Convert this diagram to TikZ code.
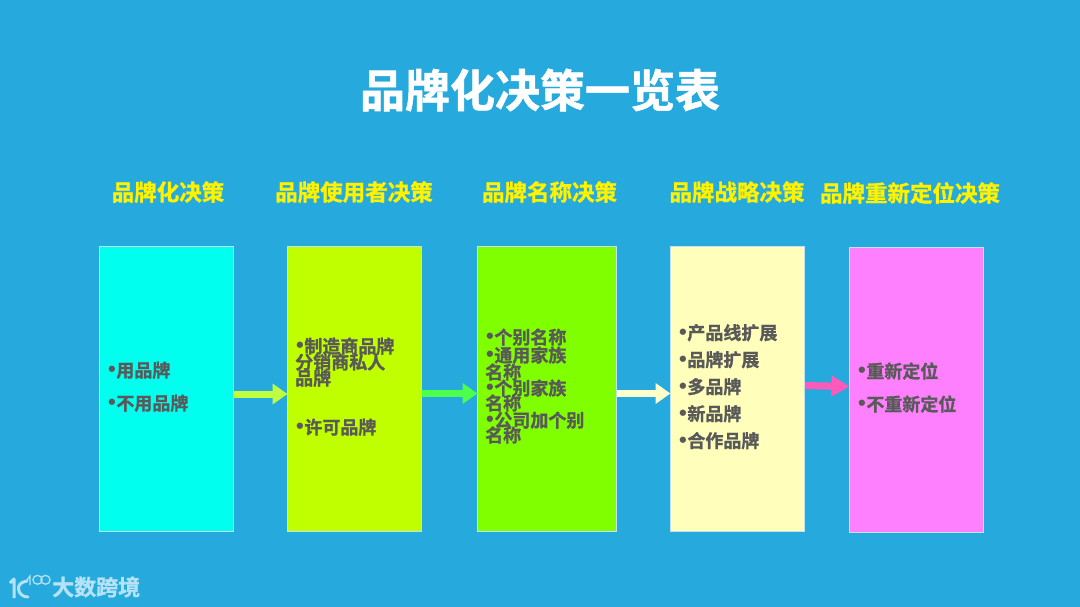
\documentclass[tikz,border=0pt]{standalone}
\usepackage{fontspec}
\setmainfont{Noto Sans CJK SC}[BoldFont={* Bold},BoldFeatures={FakeBold=1.2}]
\usetikzlibrary{arrows.meta}
\definecolor{bgblue}{HTML}{26A9DC}
\definecolor{bodygray}{HTML}{595959}
\definecolor{logoblue}{HTML}{B5E2F5}
\definecolor{edgeblue}{HTML}{BFE3F2}
\newcommand{\bul}{\makebox[8.2pt][l]{\raisebox{0.5pt}{\hspace{-0.2pt}\fontspec{Liberation Sans}\fontsize{22}{22}\selectfont•}}}
\tikzset{
  x=1pt,y=-1pt,
  panel/.style={draw=edgeblue,line width=1pt,inner sep=0pt,anchor=north west},
  head/.style={text=yellow,font=\bfseries\fontsize{22.5}{24}\selectfont,inner sep=0pt,anchor=center},
  item/.style={text=bodygray,font=\bfseries\fontsize{18}{18}\selectfont,inner sep=0pt,anchor=base west},
  flow/.style={line width=7pt,-{Triangle[length=15pt,width=20pt]},shorten >=-0.5pt},
  flowlong/.style={line width=7pt,-{Triangle[length=18pt,width=20pt]},shorten >=-0.5pt},
}
\begin{document}
\begin{tikzpicture}
\useasboundingbox (0,0) rectangle (1080,607);
\fill[bgblue] (0,0) rectangle (1080,607);
\node[text=white,font=\bfseries\fontsize{45}{48}\selectfont,inner sep=0pt] (title) at (540,90) {品牌化决策一览表};

\node[head] (h1) at (168,192) {品牌化决策};
\node[head] (h2) at (354,192) {品牌使用者决策};
\node[head] (h3) at (549.5,192) {品牌名称决策};
\node[head] (h4) at (737,192) {品牌战略决策};
\node[head] (h5) at (910,193) {品牌重新定位决策};

\node[panel,fill={rgb,255:red,0;green,255;blue,238},minimum width=134pt,minimum height=285pt] (b1) at (99,246) {};
\node[panel,fill={rgb,255:red,192;green,255;blue,0},minimum width=134pt,minimum height=285pt] (b2) at (287,246) {};
\node[panel,fill={rgb,255:red,128;green,255;blue,0},minimum width=139pt,minimum height=285pt] (b3) at (477,246) {};
\node[panel,fill={rgb,255:red,255;green,255;blue,187},minimum width=134pt,minimum height=285pt] (b4) at (670,246) {};
\node[panel,fill={rgb,255:red,255;green,128;blue,255},minimum width=134pt,minimum height=285pt] (b5) at (849,247) {};

\draw[flow,color={rgb,255:red,192;green,255;blue,64}] ([yshift=-5pt]b1.east) -- ([yshift=-5pt]b2.west);
\draw[flow,color={rgb,255:red,76;green,255;blue,76}] ([yshift=-4.5pt]b2.east) -- ([yshift=-4.5pt]b3.west);
\draw[flow,color={rgb,255:red,255;green,255;blue,204}] ([yshift=-4.5pt]b3.east) -- ([yshift=-4.5pt]b4.west);
\draw[flowlong,color={rgb,255:red,255;green,90;blue,185}] ([yshift=3.5pt]b4.east) -- ([yshift=3.5pt]b5.west);

\node[item] (t11) at (108,377) {\bul 用品牌};
\node[item] (t12) at (108,410) {\bul 不用品牌};

\node[item] (t21) at (296,353) {\bul 制造商品牌};
\node[item] (t22) at (295,369) {分销商私人};
\node[item] (t23) at (295,385) {品牌};
\node[item] (t24) at (296,434) {\bul 许可品牌};

\node[item] (t31) at (486,344) {\bul 个别名称};
\node[item] (t32) at (486,362) {\bul 通用家族};
\node[item] (t33) at (485,379) {名称};
\node[item] (t34) at (486,395) {\bul 个别家族};
\node[item] (t35) at (485,410) {名称};
\node[item] (t36) at (486,427) {\bul 公司加个别};
\node[item] (t37) at (485,442) {名称};

\node[item] (t41) at (679,339.5) {\bul 产品线扩展};
\node[item] (t42) at (679,366.5) {\bul 品牌扩展};
\node[item] (t43) at (679,393.5) {\bul 多品牌};
\node[item] (t44) at (679,420.5) {\bul 新品牌};
\node[item] (t45) at (679,447.5) {\bul 合作品牌};

\node[item] (t51) at (858,378) {\bul 重新定位};
\node[item] (t52) at (858,411) {\bul 不重新定位};

% logo
\draw[logoblue,line width=3pt,line join=round]
  (10,583) -- (14,579) -- (14,598);
\draw[logoblue,line width=3pt,line cap=round]
  (27,581) .. controls (21,582) and (18,585) .. (18.5,589)
  .. controls (19,594) and (23,597) .. (28,597);
\draw[logoblue,line width=1.3pt] (27,580) -- (30,576) -- (30,585);
\draw[logoblue,line width=1.3pt] (37.5,579.8) circle [x radius=4.6,y radius=4.4];
\draw[logoblue,line width=1.3pt] (45.5,579.8) circle [x radius=4.6,y radius=4.4];
\node[text=logoblue,font=\bfseries\fontsize{22}{22}\selectfont,inner sep=0pt,anchor=west] (logo) at (52,587) {大数跨境};
\end{tikzpicture}
\end{document}
